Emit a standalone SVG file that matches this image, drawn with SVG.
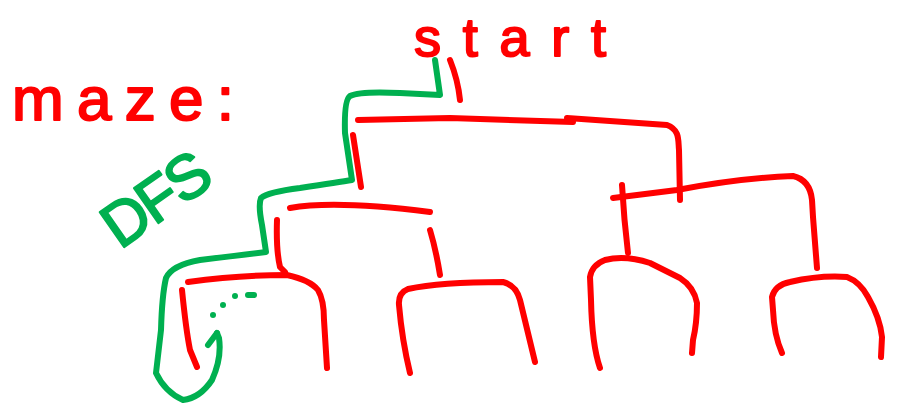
<svg xmlns="http://www.w3.org/2000/svg" width="898" height="409" viewBox="0 0 898 409">
<style>
.r{fill:none;stroke:#ff0000;stroke-width:6;stroke-linecap:round;stroke-linejoin:round}
.g{fill:none;stroke:#00b050;stroke-width:6;stroke-linecap:round;stroke-linejoin:round}
.tr{fill:#ff0000;stroke:#ff0000;stroke-width:2;stroke-linejoin:round;font-family:"Liberation Sans",Arial,sans-serif}
.tg{fill:#00b050;stroke:#00b050;stroke-width:2;stroke-linejoin:round;font-family:"Liberation Sans",Arial,sans-serif}
</style>
<rect width="898" height="409" fill="#ffffff"/>
<g id="labels">
<text class="tr" x="414" y="56" font-size="54" textLength="192" lengthAdjust="spacing">start</text>
<text class="tr" x="12" y="120" font-size="62" textLength="222" lengthAdjust="spacing">maze:</text>
<text class="tg" font-size="62" transform="translate(120,250) rotate(-35)" textLength="118" lengthAdjust="spacing">DFS</text>
</g>
<g id="maze">
<path class="r" d="M450,60 Q458,80 460,100"/>
<path class="r" d="M358,120 L450,118 L573,122"/>
<path class="r" d="M567,118 L667,125 C680,130 678,140 679,150 L680,200"/>
<path class="r" d="M353,135 L361,187"/>
<path class="r" d="M290,208 Q335,200 430,212"/>
<path class="r" d="M277,220 Q276,250 280,267 L285,272"/>
<path class="r" d="M430,230 Q436,250 440,275"/>
<path class="r" d="M188,282 Q240,275 287,275 Q310,280 318,290 Q324,300 324,320 L327,368"/>
<path class="r" d="M182,290 Q186,330 190,350 L197,367"/>
<path class="r" d="M410,373 Q402,340 399,305 Q398,293 408,289 Q440,282 503,282 Q516,285 520,300 L535,362"/>
<path class="r" d="M613,198 L677,190 Q740,178 793,176 Q810,180 812,200 L813,217 L817,268"/>
<path class="r" d="M622,185 Q624,220 628,253"/>
<path class="r" d="M600,368 Q592,345 591,300 L590,277 Q592,265 605,260 Q625,255 650,263 L680,278 Q694,287 697,303 Q697,323 693,340 L692,353"/>
<path class="r" d="M782,353 Q774,335 773,310 L772,297 Q775,285 790,282 Q820,275 847,277 Q860,282 868,297 Q880,318 882,337 L881,357"/>
</g>
<g id="path">
<path class="g" d="M435,60 L440,95 L400,93 Q360,91 350,96 Q344,100 345,133 L352,180 Q340,182 300,188 Q268,192 261,198 Q258,205 262,225 L266,252 Q240,255 200,260 Q172,265 166,278 Q162,295 161,330 L156,373 Q165,392 183,400 Q200,398 212,380 Q222,358 219,338 L217,333"/>
<path class="g" d="M217,333 L208,345"/>
<circle cx="213" cy="315" r="3" fill="#00b050"/>
<circle cx="223" cy="305" r="3" fill="#00b050"/>
<circle cx="235" cy="296" r="3" fill="#00b050"/>
<path class="g" d="M248,295 L254,295"/>
</g>
</svg>
